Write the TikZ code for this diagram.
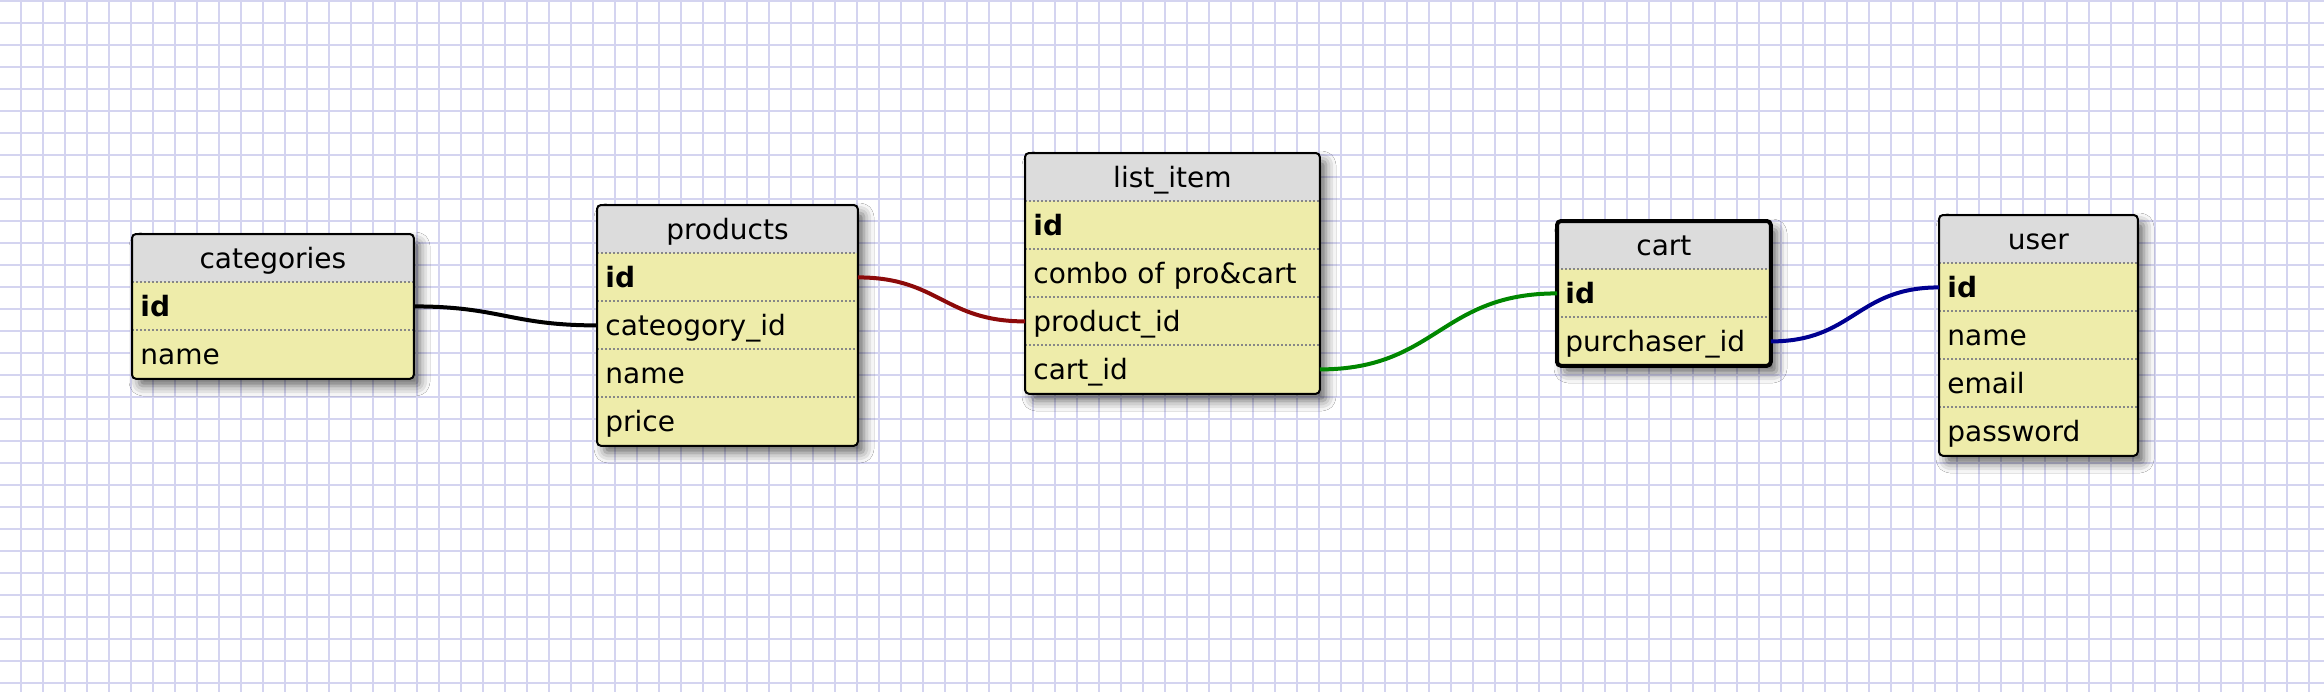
\documentclass[tikz,border=0pt]{standalone}
\usepackage{fontspec}
\setmainfont{DejaVu Sans}
\usetikzlibrary{shadows.blur}
\definecolor{gridblue}{RGB}{212,212,240}
\definecolor{headgray}{RGB}{220,220,220}
\definecolor{rowyellow}{RGB}{238,236,170}
\definecolor{sepgray}{RGB}{135,135,135}
\definecolor{linkred}{RGB}{140,10,10}
\definecolor{linkgreen}{RGB}{0,135,0}
\definecolor{linkblue}{RGB}{0,0,145}

\begin{document}
\begin{tikzpicture}
   [x=0.5pt,y=-0.5pt,
    font=\fontsize{14pt}{17pt}\selectfont,
    gridline/.style={gridblue,line width=1.1pt},
    tablebox/.style={fill=rowyellow,rounded corners=2pt,
           blur shadow={shadow xshift=3.5pt,shadow yshift=-4pt,shadow blur radius=5pt,shadow opacity=60}},
    tablehead/.style={fill=headgray,anchor=north west,inner sep=0pt,minimum height=24pt,text height=10pt,text depth=0pt},
    tablefield/.style={fill=rowyellow,anchor=north west,inner xsep=4pt,inner ysep=0pt,minimum height=24pt,
           text height=10pt,text depth=0pt,text width=#1,align=left},
    rowsep/.style={sepgray,line width=1pt,dash pattern=on 1pt off 1pt},
    tableframe/.style={draw=black,line width=1pt,rounded corners=2pt},
    link/.style={line width=2pt,out=0,in=180,looseness=1.2}]
\pgfmathsetmacro{\rh}{48}

\useasboundingbox (0,0) rectangle (2324,692);
\fill[white] (0,0) rectangle (2324,692);
\foreach \gx in {0,...,104}
   \draw[gridline] ({21+22*\gx},0) -- ({21+22*\gx},692);
\foreach \gy in {0,...,31}
   \draw[gridline] (0,{1+22*\gy}) -- (2324,{1+22*\gy});

\path[tablebox] (132,234) rectangle ++(281,144);
\node[tablehead,minimum width=140.5pt] (cat) at (132,234) {categories};
\foreach \f [count=\i] in {{\textbf{id}},name}
   \node[tablefield=132.5pt] (cat-\i) at (132,{234+\rh*\i}) {\f};
\foreach \i in {1,2}
   \draw[rowsep] (cat-\i.north west) -- (cat-\i.north east);
\draw[tableframe] (cat.north west) rectangle (cat-2.south east);

\path[tablebox] (597,205) rectangle ++(260,240);
\node[tablehead,minimum width=130pt] (prod) at (597,205) {products};
\foreach \f [count=\i] in {{\textbf{id}},cateogory\_id,name,price}
   \node[tablefield=122pt] (prod-\i) at (597,{205+\rh*\i}) {\f};
\foreach \i in {1,...,4}
   \draw[rowsep] (prod-\i.north west) -- (prod-\i.north east);
\draw[tableframe] (prod.north west) rectangle (prod-4.south east);

\path[tablebox] (1025,153) rectangle ++(294,240);
\node[tablehead,minimum width=147pt] (list) at (1025,153) {list\_item};
\foreach \f [count=\i] in {{\textbf{id}},combo of pro\&cart,product\_id,cart\_id}
   \node[tablefield=139pt] (list-\i) at (1025,{153+\rh*\i}) {\f};
\foreach \i in {1,...,4}
   \draw[rowsep] (list-\i.north west) -- (list-\i.north east);
\draw[tableframe] (list.north west) rectangle (list-4.south east);

\path[tablebox] (1557,221) rectangle ++(213,144);
\node[tablehead,minimum width=106.5pt] (cart) at (1557,221) {cart};
\foreach \f [count=\i] in {{\textbf{id}},purchaser\_id}
   \node[tablefield=98.5pt] (cart-\i) at (1557,{221+\rh*\i}) {\f};
\foreach \i in {1,2}
   \draw[rowsep] (cart-\i.north west) -- (cart-\i.north east);
\draw[tableframe,line width=2pt] (cart.north west) rectangle (cart-2.south east);

\path[tablebox] (1939,215) rectangle ++(198,240);
\node[tablehead,minimum width=99pt] (user) at (1939,215) {user};
\foreach \f [count=\i] in {{\textbf{id}},name,email,password}
   \node[tablefield=91pt] (user-\i) at (1939,{215+\rh*\i}) {\f};
\foreach \i in {1,...,4}
   \draw[rowsep] (user-\i.north west) -- (user-\i.north east);
\draw[tableframe] (user.north west) rectangle (user-4.south east);

\draw[link] (cat-1.east) to (prod-2.west);
\draw[link,linkred] (prod-1.east) to (list-3.west);
\draw[link,linkgreen] (list-4.east) to (cart-1.west);
\draw[link,linkblue] (cart-2.east) to (user-1.west);
\end{tikzpicture}
\end{document}
